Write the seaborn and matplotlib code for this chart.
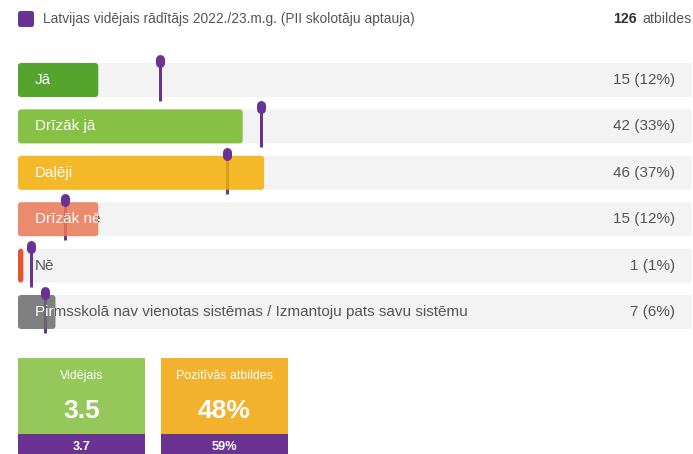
import numpy as np
import pandas as pd
import matplotlib
matplotlib.use('Agg')
import matplotlib.pyplot as plt
from matplotlib.patches import FancyBboxPatch, Rectangle
from matplotlib.transforms import Bbox, TransformedBbox
import seaborn as sns

# answer options and counts (126 responses)
labels = ["Jā", "Drīzāk jā", "Daļēji", "Drīzāk nē", "Nē",
          "Pirmsskolā nav vienotas sistēmas / Izmantoju pats savu sistēmu"]
counts = [15, 42, 46, 15, 1, 7]
pct_labels = [12, 33, 37, 12, 1, 6]
total = 126
# Latvian average (percent) shown as purple markers
lv_pct = [21, 36, 31, 7, 2, 4]
bar_colors = ["#38960b", "#73b827", "#f5ae05", "#ea7854", "#e13b0b", "#6c6c6c"]

legend_label = "Latvijas vidējais rādītājs 2022./23.m.g. (PII skolotāju aptauja)"
box_titles = ["Vidējais", "Pozitīvās atbildes"]
box_values = ["3.5", "48%"]
box_lv_values = ["3.7", "59%"]
box_colors = ["#96c75a", "#f3b22d"]

PURPLE = "#6b3391"
TXT = "#555555"

sns.set_style("white")
plt.rcParams['font.family'] = ['Liberation Sans', 'DejaVu Sans']

W, H = 693, 454
fig = plt.figure(figsize=(W / 100, H / 100), dpi=100)

# pixel layout of the bar area
row0, step = 80.0, 46.4
ax_top, ax_bot = 40.0, 345.0
bar_h = 34 / step
ax = fig.add_axes([18 / W, 1 - ax_bot / H, 674 / W, (ax_bot - ax_top) / H])

df = pd.DataFrame({"label": labels, "count": counts})
df["share"] = df["count"] / total * 100
df["full"] = 100.0

sns.barplot(data=df, x="full", y="label", color="#f3f3f3", width=bar_h,
            orient="h", saturation=1, ax=ax)
bg_patches = list(ax.patches)
sns.barplot(data=df, x="share", y="label", hue="label", palette=bar_colors,
            width=bar_h, orient="h", saturation=1, legend=False, ax=ax)
fg_patches = [p for p in ax.patches if p not in bg_patches]

ax.set_xlim(0, 100)
ax.set_ylim(len(labels) - 1 + (ax_bot - (row0 + step * (len(labels) - 1))) / step,
            -(row0 - ax_top) / step)
ax.axis("off")

xu = 100 / 674          # x units per pixel
yu = 1 / step           # y units per pixel
asp = yu / xu


def round_bars(patches, z, alpha=1.0):
    out = {}
    for p in patches:
        x, y, w, h = p.get_x(), p.get_y(), p.get_width(), p.get_height()
        fc = p.get_facecolor()
        p.remove()
        rp = FancyBboxPatch((x, y), w, h,
                            boxstyle=f"round,pad=0,rounding_size={3 * xu}",
                            mutation_aspect=asp, fc=fc, ec="none",
                            zorder=z, alpha=alpha)
        ax.add_patch(rp)
        out[int(round(y + h / 2))] = (x, y, w, h)
    return out


round_bars(bg_patches, 1)
fg = round_bars(fg_patches, 3, alpha=0.85)

rows = np.arange(len(labels))
# marker stems (under the coloured bars) and heads (on top)
ax.vlines(lv_pct, rows - 17 * yu, rows + 21 * yu, color=PURPLE,
          lw=3 * 0.72, zorder=2)
for i, v in enumerate(lv_pct):
    ax.plot([v, v], [i - 21 * yu, i - 17 * yu], color=PURPLE, lw=9 * 0.72,
            solid_capstyle="round", zorder=4)

for i, lab in enumerate(labels):
    bx, by, bw, bh = fg[i]
    # dark part of the label outside the bar, white part inside it
    t_dark = ax.text(17 * xu, i, lab, color=TXT, fontsize=11, va="center",
                     ha="left", zorder=5)
    t_dark.set_clip_on(True)
    t_dark.set_clip_box(TransformedBbox(
        Bbox.from_extents(bx + bw, i - 0.5, 100, i + 0.5), ax.transData))
    t = ax.text(17 * xu, i, lab, color="white", fontsize=11, va="center",
                ha="left", zorder=6)
    t.set_clip_on(True)
    t.set_clip_box(TransformedBbox(Bbox.from_bounds(bx, by, bw, bh),
                                   ax.transData))
    ax.text(657 * xu, i, f"{counts[i]} ({pct_labels[i]}%)", color=TXT,
            fontsize=11, va="center", ha="right", zorder=5)

# overlay in pixel coordinates for legend, header and summary boxes
ov = fig.add_axes([0, 0, 1, 1])
ov.set_xlim(0, W)
ov.set_ylim(H, 0)
ov.axis("off")
ov.patch.set_alpha(0)

ov.add_patch(FancyBboxPatch((18, 11), 16, 16,
                            boxstyle="round,pad=0,rounding_size=2.5",
                            fc=PURPLE, ec="none"))
ov.text(43, 19, legend_label, color=TXT, fontsize=9.9, va="center", ha="left")
ov.text(692, 19, "atbildes", color=TXT, fontsize=10.2, va="center", ha="right")
ov.text(637, 19, str(total), color="#333333", fontsize=10.2, va="center",
        ha="right", fontweight="bold")

box_x = [18, 161]
for bx, title, val, lv, col in zip(box_x, box_titles, box_values,
                                   box_lv_values, box_colors):
    ov.add_patch(Rectangle((bx, 358), 127, 76, fc=col, ec="none"))
    ov.add_patch(Rectangle((bx, 434), 127, 25, fc=PURPLE, ec="none"))
    cx = bx + 63.5
    ov.text(cx, 376, title, color="white", fontsize=8.9, ha="center",
            va="center")
    ov.text(cx, 411, val, color="white", fontsize=19, ha="center",
            va="center", fontweight="bold")
    ov.text(cx, 447, lv, color="white", fontsize=9.2, ha="center",
            va="center", fontweight="bold")

fig.savefig("out.png", dpi=100)
